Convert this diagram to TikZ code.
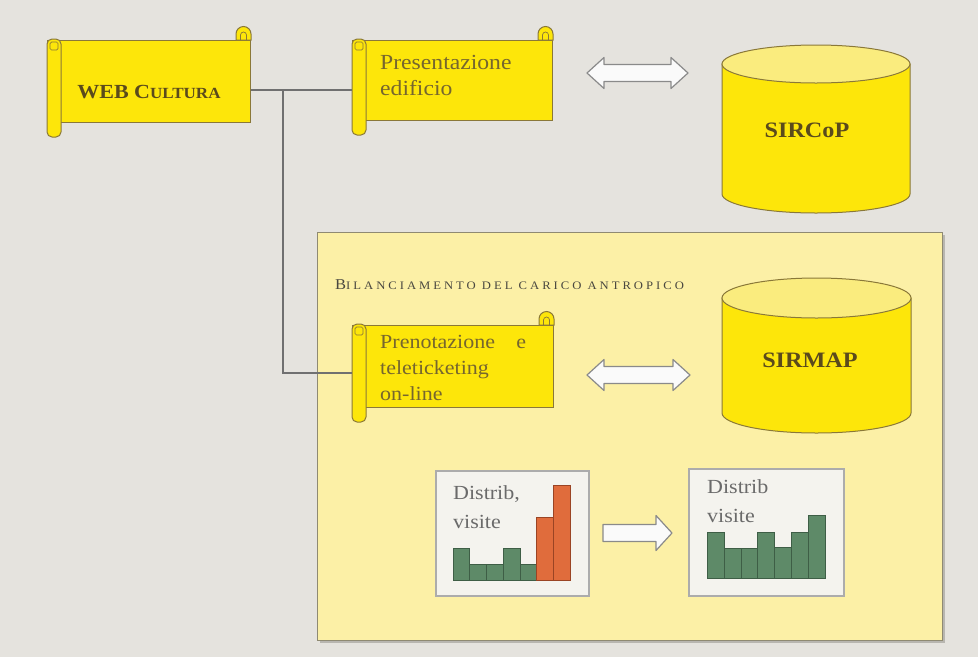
\documentclass[tikz,border=0pt]{standalone}
\usepackage{fontspec}
\setmainfont{Liberation Serif}[FakeStretch=1.1]
\newfontfamily\spacedfont{Liberation Serif}[FakeStretch=1.1,LetterSpace=26]
\usetikzlibrary{calc}
\definecolor{bgc}{HTML}{E5E3DE}
\definecolor{panelc}{HTML}{FCF0A6}
\definecolor{panelb}{HTML}{8F8A72}
\definecolor{yel}{HTML}{FDE60A}
\definecolor{yellt}{HTML}{FAEC7E}
\definecolor{olive}{HTML}{8A7838}
\definecolor{txtol}{HTML}{76662E}
\definecolor{txtdark}{HTML}{5A4A1C}
\definecolor{titlec}{HTML}{4A4840}
\definecolor{linec}{HTML}{707070}
\definecolor{arrc}{HTML}{8A8A8A}
\definecolor{barg}{HTML}{5E8A68}
\definecolor{bargd}{HTML}{3E5E46}
\definecolor{baro}{HTML}{E06C3C}
\definecolor{barod}{HTML}{9A4424}
\definecolor{chartbg}{HTML}{F4F3EE}
\definecolor{charttxt}{HTML}{6A6A6A}
\definecolor{shadowc}{HTML}{B8B6B0}
\tikzset{
  scrollbody/.style={rectangle, draw=olive, line width=1pt, fill=yel, inner sep=0pt},
  scroll/.style={draw=olive, line width=1pt, fill=yel},
  scrollthin/.style={draw=olive, line width=0.7pt},
  scrolltext/.style={inner sep=0pt, text=txtol, font=\fontsize{20}{26}\selectfont, align=left},
  conn/.style={draw=linec, line width=1.2pt},
  blockarrow/.style={draw=arrc, fill=white!96!gray, line width=1.2pt, line join=round},
  cyl/.style={draw=olive, line width=1pt, fill=yel},
  cyltop/.style={draw=olive, line width=1pt, fill=yellt},
  dbtext/.style={inner sep=0pt, text=txtdark, font=\fontsize{22}{22}\selectfont\bfseries},
  panel/.style={rectangle, draw=panelb, fill=panelc, line width=1.2pt, inner sep=0pt},
  chartbox/.style={rectangle, draw=gray!65, fill=chartbg, line width=1.6pt, inner sep=0pt},
  charttext/.style={inner sep=0pt, text=charttxt, font=\fontsize{20}{29}\selectfont, align=left},
  barG/.style={draw=bargd, fill=barg, line width=0.6pt},
  barO/.style={draw=barod, fill=baro, line width=0.6pt}
}
\newcommand\scrolldeco[1]{%
  \draw[scroll] ([xshift=-15pt]#1.north east) -- ++(0,6) arc[start angle=180,end angle=0,radius=7.5] -- (#1.north east) -- cycle;
  \draw[scrollthin] ([xshift=-10.5pt]#1.north east) -- ++(0,5) arc[start angle=180,end angle=0,radius=3] -- ++(0,-5);
  \draw[scroll,rounded corners=5pt] ([yshift=1pt]#1.north west) -- ([yshift=-14pt]#1.south west) -- ([xshift=14pt,yshift=-14pt]#1.south west) -- ([xshift=14pt,yshift=1pt]#1.north west) -- cycle;
  \draw[scrollthin,rounded corners=1.5pt] ([xshift=3pt,yshift=-2pt]#1.north west) rectangle ([xshift=11pt,yshift=-10pt]#1.north west);
}
\begin{document}
\begin{tikzpicture}[x=1pt,y=1pt]
\fill[bgc] (0,0) rectangle (978,-657);
\useasboundingbox (0,0) rectangle (978,-657);

% panel with slight shadow
\fill[shadowc] (320,-235) rectangle (944.5,-642.5);
\node[panel, anchor=north west, minimum width=625pt, minimum height=408pt] (panel) at (317,-232) {};
\node[anchor=west, inner sep=0pt, text=titlec] (title) at (335,-285)
  {\spacedfont\fontsize{15}{15}\selectfont B\fontsize{11.5}{12}\selectfont ILANCIAMENTO DEL CARICO ANTROPICO};

% scrolls
\node[scrollbody, anchor=north west, minimum width=203pt, minimum height=82pt] (web) at (47,-40) {};
\scrolldeco{web}
\node[inner sep=0pt, text=txtdark, font=\fontsize{20}{20}\selectfont\bfseries] (webtxt) at (149,-92)
  {WEB C{\fontsize{15.5}{16}\selectfont ULTURA}};

\node[scrollbody, anchor=north west, minimum width=200pt, minimum height=80pt] (pres) at (352,-40) {};
\scrolldeco{pres}
\node[scrolltext, anchor=west, font=\fontsize{21.5}{26}\selectfont] (prestxt) at (380,-75) {Presentazione\\edificio};

\node[scrollbody, anchor=north west, minimum width=201pt, minimum height=82pt] (pren) at (352,-325) {};
\scrolldeco{pren}
\node[scrolltext, anchor=west, text width=146pt] (prentxt) at (380,-367.5)
  {Prenotazione\hfill e\\teleticketing\\on-line};

% connectors
\coordinate (j1) at (283,-90);
\coordinate (j2) at (283,-373);
\draw[conn] (web.east |- j1) -- (pres.west |- j1);
\draw[conn] (j1) -- (j2) -- (pren.west |- j2);

% double arrows
\draw[blockarrow] (587,-73) -- (604,-57.5) -- (604,-64.5) -- (671,-64.5) -- (671,-57.5) -- (688,-73)
  -- (671,-88.5) -- (671,-81.5) -- (604,-81.5) -- (604,-88.5) -- cycle;
\draw[blockarrow] (587,-375) -- (604,-359.5) -- (604,-366.5) -- (673,-366.5) -- (673,-359.5) -- (690,-375)
  -- (673,-390.5) -- (673,-383.5) -- (604,-383.5) -- (604,-390.5) -- cycle;

% cylinders
\draw[cyl] (722,-64) -- (722,-194) arc[start angle=180,end angle=360,x radius=94,y radius=19] -- (910,-64) -- cycle;
\draw[cyltop] (816,-64) ellipse[x radius=94, y radius=19];
\node[dbtext] (sircop) at (807,-130) {SIRCoP};

\draw[cyl] (722,-298) -- (722,-413) arc[start angle=180,end angle=360,x radius=94.5,y radius=20] -- (911,-298) -- cycle;
\draw[cyltop] (816.5,-298) ellipse[x radius=94.5, y radius=20];
\node[dbtext] (sirmap) at (810,-360) {SIRMAP};

% charts
\node[chartbox, anchor=north west, minimum width=153pt, minimum height=125pt] (c1) at (435,-470) {};
\node[chartbox, anchor=north west, minimum width=155pt, minimum height=127pt] (c2) at (688,-468) {};
\foreach \t [count=\i from 0] in {548,564,564,548,564}
  \draw[barG] ({453+\i*16.7},-580) rectangle ({453+(\i+1)*16.7},-\t);
\foreach \t [count=\i from 5] in {517,485}
  \draw[barO] ({453+\i*16.7},-580) rectangle ({453+(\i+1)*16.7},-\t);
\foreach \t [count=\i from 0] in {532,548,548,532,547,532,515}
  \draw[barG] ({707+\i*16.9},-578) rectangle ({707+(\i+1)*16.9},-\t);
\node[charttext, anchor=west] (c1txt) at (453,-507.5) {Distrib,\\visite};
\node[charttext, anchor=west] (c2txt) at (707,-501.5) {Distrib\\visite};

\draw[blockarrow] (603,-524.5) -- (656,-524.5) -- (656,-515.5) -- (672,-533) -- (656,-550.5)
  -- (656,-541.5) -- (603,-541.5) -- cycle;
\end{tikzpicture}
\end{document}
